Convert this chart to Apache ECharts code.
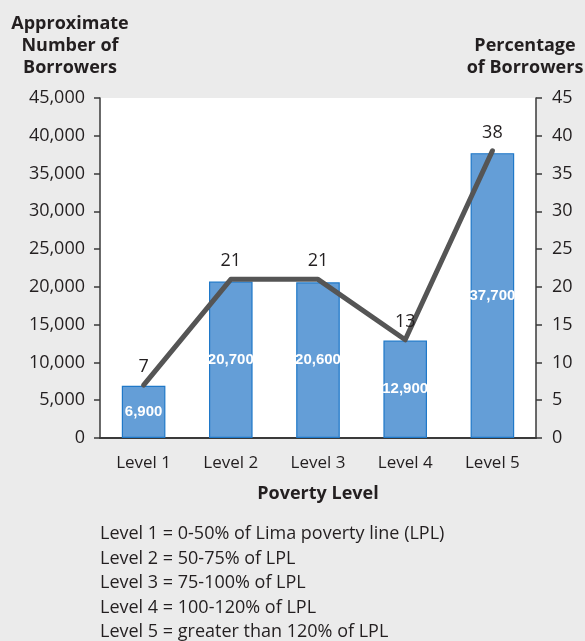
<!DOCTYPE html>
<html>
<head>
<meta charset="utf-8">
<script src="https://cdn.jsdelivr.net/npm/echarts@6/dist/echarts.min.js"></script>
<style>
  html, body { margin: 0; padding: 0; background: #ebebeb; }
  #chart { width: 585px; height: 641px; }
</style>
</head>
<body>
<div id="chart"></div>
<script>
const levels = ["Level 1", "Level 2", "Level 3", "Level 4", "Level 5"];
const borrowers = [6900, 20700, 20600, 12900, 37700];
const percentBorrowers = [7, 21, 21, 13, 38];
const footnotes = [
    "Level 1 = 0-50% of Lima poverty line (LPL)",
    "Level 2 = 50-75% of LPL",
    "Level 3 = 75-100% of LPL",
    "Level 4 = 100-120% of LPL",
    "Level 5 = greater than 120% of LPL"
];

const FONT = "Open Sans";
const INK = "#231f20";

const chart = echarts.init(document.getElementById("chart"));

chart.setOption({
    backgroundColor: "#ebebeb",
    textStyle: { fontFamily: FONT, color: INK },
    title: [
        {
            text: "Approximate\nNumber of\nBorrowers",
            left: 70, top: 13, padding: 0, textAlign: "center",
            textStyle: { fontFamily: FONT, fontSize: 18, fontWeight: "bold", color: INK, lineHeight: 22 }
        },
        {
            text: "Percentage\nof Borrowers",
            left: 525, top: 35, padding: 0, textAlign: "center",
            textStyle: { fontFamily: FONT, fontSize: 18, fontWeight: "bold", color: INK, lineHeight: 22 }
        },
        {
            text: footnotes.join("\n"),
            left: 100, top: 522, padding: 0,
            textStyle: { fontFamily: FONT, fontSize: 18, fontWeight: "normal", color: INK, lineHeight: 24.5 }
        }
    ],
    grid: {
        left: 100, right: 49, top: 98, bottom: 203,
        show: true, backgroundColor: "#ffffff", borderWidth: 0
    },
    xAxis: {
        type: "category",
        data: levels,
        name: "Poverty Level",
        nameLocation: "middle",
        nameGap: 47,
        nameTextStyle: { fontFamily: FONT, fontSize: 18, fontWeight: "bold", color: INK },
        axisLine: { lineStyle: { color: "#3a3a3a", width: 2 } },
        axisTick: { show: false },
        axisLabel: { fontFamily: FONT, fontSize: 17, color: INK, margin: 17 }
    },
    yAxis: [
        {
            type: "value", min: 0, max: 45000, interval: 5000,
            axisLine: { show: true, lineStyle: { color: "#3a3a3a", width: 1.5 } },
            axisTick: { show: true, length: 6, lineStyle: { color: "#3a3a3a", width: 1.5 } },
            splitLine: { show: false },
            axisLabel: {
                fontFamily: FONT, fontSize: 18, color: INK, margin: 15,
                formatter: v => v.toLocaleString("en-US")
            }
        },
        {
            type: "value", min: 0, max: 45, interval: 5,
            position: "right",
            axisLine: { show: true, lineStyle: { color: "#3a3a3a", width: 1.5 } },
            axisTick: { show: true, length: 6, lineStyle: { color: "#3a3a3a", width: 1.5 } },
            splitLine: { show: false },
            axisLabel: { fontFamily: FONT, fontSize: 18, color: INK, margin: 16 }
        }
    ],
    series: [
        {
            type: "bar",
            data: borrowers,
            barWidth: "50%",
            itemStyle: { color: "#649ed7", borderColor: "#1f78c8", borderWidth: 1.2 },
            label: {
                show: true, position: "inside",
                fontFamily: "Liberation Sans", fontWeight: "bold", fontSize: 15, color: "#ffffff",
                formatter: p => p.value.toLocaleString("en-US")
            },
            z: 2
        },
        {
            type: "line",
            yAxisIndex: 1,
            data: percentBorrowers,
            symbol: "circle",
            symbolSize: 0.1,
            lineStyle: { color: "#555555", width: 5, cap: "round", join: "round" },
            itemStyle: { color: "#555555" },
            label: {
                show: true, position: "top", distance: 9,
                fontFamily: FONT, fontSize: 18, color: INK
            },
            z: 3
        }
    ]
});
</script>
</body>
</html>
